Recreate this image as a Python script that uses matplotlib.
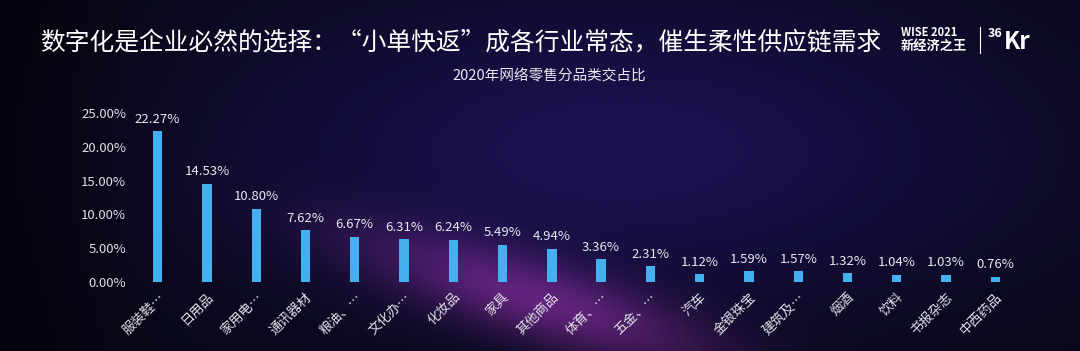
import numpy as np
import matplotlib
matplotlib.use("Agg")
import matplotlib.pyplot as plt
from matplotlib.ticker import FuncFormatter

plt.rcParams['font.family'] = ['Noto Sans CJK SC', 'DejaVu Sans']

categories = ["服装鞋…", "日用品", "家用电…", "通讯器材", "粮油、…", "文化办…", "化妆品", "家具",
              "其他商品", "体育、…", "五金、…", "汽车", "金银珠宝", "建筑及…", "烟酒", "饮料",
              "书报杂志", "中西药品"]
values = [22.27, 14.53, 10.80, 7.62, 6.67, 6.31, 6.24, 5.49, 4.94, 3.36, 2.31, 1.12, 1.59, 1.57,
          1.32, 1.04, 1.03, 0.76]
yticks = [0, 5, 10, 15, 20, 25]

W, H = 1080, 351
fig = plt.figure(figsize=(W / 100, H / 100), dpi=100)

# background gradient
bg = fig.add_axes([0, 0, 1, 1])
yy, xx = np.mgrid[0:H, 0:W]
base = np.zeros((H, W, 3))
base[..., 0] = 0.03
base[..., 1] = 0.03
base[..., 2] = 0.09
# bluish glow upper-middle
g1 = np.exp(-(((xx - 620) / 420) ** 2 + ((yy - 150) / 170) ** 2))
base[..., 0] += 0.07 * g1
base[..., 1] += 0.04 * g1
base[..., 2] += 0.22 * g1
# purple glow lower-middle (diagonal streak)
u = (xx - 540) * 0.95 + (yy - 300) * 0.3
v = -(xx - 540) * 0.3 + (yy - 300) * 0.95
g2 = np.exp(-((u / 180) ** 2 + (v / 40) ** 2))
base[..., 0] += 0.32 * g2
base[..., 1] += 0.09 * g2
base[..., 2] += 0.30 * g2
# darker left edge
dl = np.exp(-((xx - 0) / 120) ** 2)
base *= (1 - 0.5 * dl)[..., None]
base = np.clip(base, 0, 1)
bg.imshow(base, aspect='auto', extent=[0, W, H, 0])
bg.set_xlim(0, W)
bg.set_ylim(H, 0)
bg.axis('off')

# main axes: x from 133 to 1020 px, y 0 at 282 px, 25 at 113 px
left = 133 / W
right = 1020 / W
bottom = (H - 282) / H
top = (H - 113) / H
ax = fig.add_axes([left, bottom, right - left, top - bottom])
ax.set_facecolor('none')
x = np.arange(len(categories))
ax.bar(x, values, width=0.19, color='#45b0f0')
ax.set_xlim(-0.5, len(categories) - 0.5)
ax.set_ylim(0, 25)
ax.set_yticks(yticks)
ax.yaxis.set_major_formatter(FuncFormatter(lambda v, p: f"{v:.2f}%"))
ax.set_xticks(x)
ax.set_xticklabels(categories, rotation=45, ha='right', rotation_mode='anchor')
for s in ax.spines.values():
    s.set_visible(False)
ax.tick_params(axis='both', length=0, colors='#e0e0e8', labelsize=9.5)
ax.tick_params(axis='y', pad=5)
ax.tick_params(axis='x', pad=6)
for xi, v in zip(x, values):
    ax.annotate(f"{v:.2f}%", (xi, v), xytext=(0, 4), textcoords='offset points',
                ha='center', va='bottom', color='#e8e8f0', fontsize=9.5)

# titles
fig.text(40 / W, 1 - 42 / H, "数字化是企业必然的选择：“小单快返”成各行业常态，催生柔性供应链需求",
         color='white', fontsize=17.8, va='center', ha='left')
fig.text(549 / W, 1 - 77 / H, "2020年网络零售分品类交占比", color='#e8e8f0', fontsize=10.5,
         va='center', ha='center')

# logo
fig.text(901 / W, 1 - 33 / H, "WISE 2021", color='white', fontsize=8, fontweight='bold',
         va='center', ha='left')
fig.text(901 / W, 1 - 47 / H, "新经济之王", color='white', fontsize=9.5, fontweight='bold',
         va='center', ha='left')
fig.add_artist(plt.Line2D([980 / W, 980 / W], [1 - 27 / H, 1 - 53 / H], color='white', lw=0.8))
fig.text(988 / W, 1 - 40 / H, "36", color='white', fontsize=9, fontweight='bold',
         va='bottom', ha='left')
fig.text(1004 / W, 1 - 42 / H, "Kr", color='white', fontsize=17, fontweight='bold',
         va='center', ha='left')

fig.savefig("out.png", dpi=100)
